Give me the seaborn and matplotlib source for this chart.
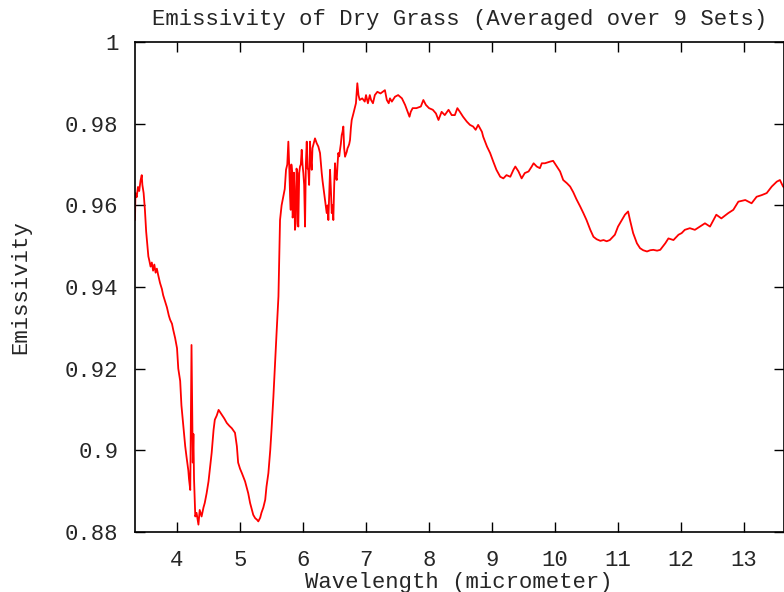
import numpy as np
import pandas as pd
import seaborn as sns
import matplotlib
matplotlib.use("Agg")
import matplotlib.pyplot as plt

# values
wavelength = [
    3.333, 3.34, 3.36, 3.38, 3.40, 3.42, 3.44, 3.45, 3.47, 3.49, 3.51, 3.53, 3.545,
    3.56, 3.58, 3.60, 3.62, 3.64, 3.66, 3.68, 3.70, 3.73, 3.76, 3.78, 3.81, 3.84,
    3.87, 3.89, 3.92, 3.94, 3.97, 4.00, 4.02, 4.05, 4.07, 4.10, 4.13, 4.15, 4.18,
    4.19, 4.21, 4.23, 4.24, 4.25, 4.26, 4.27, 4.29, 4.31, 4.34, 4.36, 4.39, 4.42,
    4.44, 4.47, 4.50, 4.52, 4.55, 4.58, 4.60, 4.63, 4.66, 4.69, 4.71, 4.75, 4.79,
    4.83, 4.87, 4.92, 4.95, 4.97, 5.00, 5.03, 5.08, 5.13, 5.16, 5.21, 5.24, 5.27,
    5.29, 5.32, 5.34, 5.37, 5.40, 5.42, 5.45, 5.48, 5.50, 5.53, 5.56, 5.58, 5.61,
    # noisy band 5.6 - 6.9
    5.635, 5.66, 5.687, 5.71, 5.730, 5.75, 5.767, 5.783, 5.795, 5.805, 5.815,
    5.825, 5.835, 5.846, 5.855, 5.862, 5.872, 5.884, 5.897, 5.910, 5.918, 5.925,
    5.94, 5.952, 5.965, 5.979, 5.992, 6.005, 6.018, 6.032, 6.045, 6.059, 6.072,
    6.084, 6.097, 6.111, 6.125, 6.138, 6.150, 6.163, 6.190, 6.217, 6.243, 6.270,
    6.285, 6.297, 6.310, 6.322, 6.335, 6.349, 6.362, 6.376, 6.39, 6.402, 6.415,
    6.429, 6.442, 6.456, 6.468, 6.481, 6.495, 6.508, 6.52, 6.535, 6.548, 6.560,
    6.575, 6.587, 6.60, 6.614, 6.627, 6.640, 6.653, 6.667, 6.680, 6.694, 6.707,
    6.719, 6.733, 6.746, 6.760, 6.773, 6.80, 6.84, 6.862,
    # plateau
    6.88, 6.90, 6.94, 6.98, 7.00, 7.03, 7.06, 7.08, 7.11, 7.14, 7.18, 7.23, 7.30,
    7.33, 7.36, 7.38, 7.41, 7.46, 7.51, 7.57, 7.62, 7.66, 7.69, 7.71, 7.74, 7.80,
    7.87, 7.91, 7.95, 8.00, 8.06, 8.11, 8.15, 8.20, 8.25, 8.31, 8.36, 8.41, 8.45,
    8.49, 8.54, 8.60, 8.65, 8.70, 8.74, 8.78, 8.84, 8.86, 8.92, 8.97, 9.02, 9.07,
    9.13, 9.18, 9.23, 9.29, 9.34, 9.37, 9.42, 9.47, 9.52, 9.58, 9.63, 9.66, 9.71,
    9.76, 9.79, 9.84, 9.92, 9.97, 10.03, 10.08, 10.13, 10.19, 10.24, 10.29, 10.34,
    10.40, 10.45, 10.50, 10.56, 10.61, 10.66, 10.72, 10.77, 10.82, 10.87, 10.95,
    11.00, 11.06, 11.11, 11.16, 11.19, 11.24, 11.30, 11.35, 11.40, 11.46, 11.51,
    11.56, 11.62, 11.67, 11.75, 11.80, 11.88, 11.96, 12.01, 12.06, 12.14, 12.22,
    12.30, 12.38, 12.46, 12.56, 12.64, 12.75, 12.83, 12.91, 13.02, 13.12, 13.20,
    13.28, 13.36, 13.44, 13.52, 13.57, 13.62, 13.66,
]
emissivity = [
    0.9564, 0.9630, 0.9620, 0.9645, 0.9635, 0.9660, 0.9674, 0.9650, 0.9630, 0.9590,
    0.9536, 0.9500, 0.9475, 0.9465, 0.9450, 0.9460, 0.9440, 0.9455, 0.9435, 0.9445,
    0.9430, 0.9410, 0.9395, 0.9380, 0.9365, 0.9350, 0.9330, 0.9320, 0.9310, 0.9295,
    0.9275, 0.9250, 0.9200, 0.9170, 0.9110, 0.9060, 0.9010, 0.8985, 0.8950, 0.8930,
    0.8903, 0.9258, 0.9110, 0.8970, 0.9040, 0.8930, 0.8838, 0.8847, 0.8818, 0.8854,
    0.8838, 0.8860, 0.8871, 0.8895, 0.8924, 0.8952, 0.8994, 0.9050, 0.9075, 0.9085,
    0.9099, 0.9092, 0.9087, 0.9078, 0.9067, 0.9060, 0.9054, 0.9043, 0.9010, 0.8970,
    0.8955, 0.8944, 0.8924, 0.8895, 0.8871, 0.8842, 0.8834, 0.8830, 0.8826, 0.8835,
    0.8847, 0.8860, 0.8879, 0.8911, 0.8944, 0.9001, 0.9050, 0.9132, 0.9226, 0.9287,
    0.9377,
    0.9564, 0.9600, 0.9621, 0.9640, 0.9687, 0.9700, 0.9756, 0.9687, 0.9620, 0.9589,
    0.9700, 0.9682, 0.9570, 0.9581, 0.9680, 0.9646, 0.9540, 0.9556, 0.9690, 0.9679,
    0.9560, 0.9548, 0.9680, 0.9695, 0.9700, 0.9736, 0.9700, 0.9679, 0.9650, 0.9548,
    0.9700, 0.9756, 0.9690, 0.9687, 0.9650, 0.9756, 0.9710, 0.9687, 0.9740, 0.9748,
    0.9764, 0.9752, 0.9744, 0.9728, 0.9700, 0.9679, 0.9660, 0.9646, 0.9630, 0.9613,
    0.9600, 0.9581, 0.9600, 0.9564, 0.9620, 0.9687, 0.9640, 0.9581, 0.9600, 0.9564,
    0.9650, 0.9703, 0.9670, 0.9662, 0.9700, 0.9728, 0.9720, 0.9736, 0.9750, 0.9772,
    0.9780, 0.9793, 0.9740, 0.9719, 0.9725, 0.9731, 0.9740, 0.9744, 0.9750, 0.9760,
    0.9790, 0.9809, 0.9825, 0.9850, 0.9899,
    0.9870, 0.9858, 0.9862, 0.9854, 0.9870, 0.9850, 0.9870, 0.9858, 0.9850, 0.9870,
    0.9878, 0.9874, 0.9882, 0.9858, 0.9850, 0.9862, 0.9854, 0.9866, 0.9870, 0.9862,
    0.9846, 0.9829, 0.9817, 0.9829, 0.9838, 0.9838, 0.9842, 0.9858, 0.9846, 0.9838,
    0.9834, 0.9825, 0.9809, 0.9829, 0.9821, 0.9834, 0.9821, 0.9821, 0.9838, 0.9829,
    0.9817, 0.9805, 0.9797, 0.9793, 0.9785, 0.9797, 0.9780, 0.9768, 0.9744, 0.9728,
    0.9707, 0.9687, 0.9670, 0.9666, 0.9674, 0.9670, 0.9687, 0.9695, 0.9683, 0.9666,
    0.9679, 0.9683, 0.9695, 0.9703, 0.9695, 0.9691, 0.9703, 0.9703, 0.9707, 0.9709,
    0.9695, 0.9683, 0.9662, 0.9654, 0.9646, 0.9632, 0.9615, 0.9597, 0.9581, 0.9564,
    0.9540, 0.9523, 0.9517, 0.9513, 0.9515, 0.9512, 0.9515, 0.9528, 0.9548, 0.9564,
    0.9577, 0.9585, 0.9564, 0.9532, 0.9507, 0.9495, 0.9490, 0.9487, 0.9490, 0.9491,
    0.9489, 0.9491, 0.9507, 0.9519, 0.9515, 0.9528, 0.9532, 0.9540, 0.9544, 0.9540,
    0.9548, 0.9556, 0.9548, 0.9577, 0.9568, 0.9581, 0.9589, 0.9609, 0.9613, 0.9605,
    0.9621, 0.9625, 0.9630, 0.9646, 0.9658, 0.9662, 0.9646, 0.9640,
]

x_ticks = [4, 5, 6, 7, 8, 9, 10, 11, 12, 13]
y_ticks = [0.88, 0.90, 0.92, 0.94, 0.96, 0.98, 1.00]
y_tick_labels = ["0.88", "0.9", "0.92", "0.94", "0.96", "0.98", "1"]

df = pd.DataFrame({"wavelength": wavelength, "emissivity": emissivity})

sns.set_style("ticks")
plt.rcParams["font.family"] = ["Liberation Mono", "DejaVu Sans Mono"]
plt.rcParams["font.size"] = 16

fig = plt.figure(figsize=(7.84, 5.92), dpi=100)
# gnuplot-style frame, right border sits on the image edge
ax = fig.add_axes([135 / 784, 1 - 532 / 592, (783.5 - 135) / 784, (532 - 42) / 592])

sns.lineplot(data=df, x="wavelength", y="emissivity", sort=False, estimator=None,
             color="red", linewidth=1.3, ax=ax)

ax.set_xlim(3.333, 3.333 + (783.5 - 135) / 63.0)
ax.set_ylim(0.88, 1.0)
ax.set_xticks(x_ticks)
ax.set_xticklabels([str(t) for t in x_ticks])
ax.set_yticks(y_ticks)
ax.set_yticklabels(y_tick_labels)

ax.tick_params(direction="in", length=7, width=1, top=True, right=True,
               labelsize=16, color="black")
ax.tick_params(axis="x", pad=13)
ax.tick_params(axis="y", pad=12)
for sp in ax.spines.values():
    sp.set_visible(True)
    sp.set_linewidth(1.2)
    sp.set_color("black")

ax.set_title("Emissivity of Dry Grass (Averaged over 9 Sets)", fontsize=16, pad=12)
ax.set_xlabel("Wavelength (micrometer)", fontsize=16, labelpad=1)
ax.set_ylabel("Emissivity", fontsize=16, labelpad=24)

fig.savefig("out.png", dpi=100)
